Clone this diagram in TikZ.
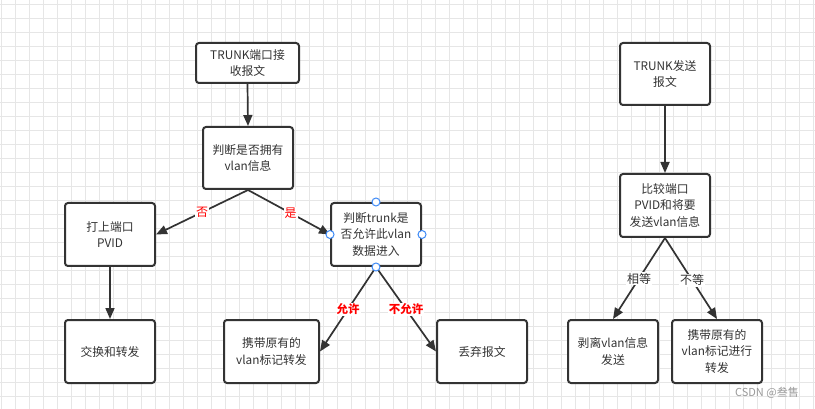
\documentclass[tikz,border=0pt]{standalone}
\usepackage{fontspec}
\setmainfont{Noto Sans CJK SC}
\usetikzlibrary{arrows.meta}
\definecolor{ink}{HTML}{333333}
\definecolor{gridc}{HTML}{E6E6E6}
\definecolor{handle}{HTML}{3D8AF7}
\tikzset{
  box/.style={draw=ink, line width=2pt, rounded corners=3pt, fill=white, text=ink,
    inner sep=0pt, minimum width=90pt, minimum height=63pt, align=center,
    font=\fontsize{11.8}{16.5}\selectfont},
  arr/.style={draw=ink, line width=1.7pt, -{Triangle[length=11pt,width=9pt]}},
  redlbl/.style={fill=white, text=red, inner sep=1pt, font=\fontsize{12}{13}\selectfont},
  redbold/.style={fill=white, text=red, inner sep=1pt, font=\fontsize{11.5}{13}\selectfont\bfseries},
  blklbl/.style={fill=white, text=ink, inner sep=1pt, font=\fontsize{12}{13}\selectfont},
  hdl/.style={circle, draw=handle, fill=white, line width=1pt, minimum size=8pt, inner sep=0pt}
}
\begin{document}
\begin{tikzpicture}[x=1pt,y=-1pt]
\useasboundingbox (0,0) rectangle (815,409);
\fill[white] (0,0) rectangle (815,409);
\foreach \gx in {1,15,...,815} \draw[gridc, line width=0.8pt] (\gx,0) -- (\gx,409);
\foreach \gy in {4,18,...,409} \draw[gridc, line width=0.8pt] (0,\gy) -- (815,\gy);

\node[box, minimum width=103pt, minimum height=40pt] (A) at (247.5,63) {TRUNK端口接\\收报文};
\node[box, minimum height=62pt] (B) at (248,158) {判断是否拥有\\vlan信息};
\node[box] (C) at (110,234.5) {打上端口\\PVID};
\node[box] (D) at (376,234.5) {判断trunk是\\否允许此vlan\\数据进入};
\node[box] (E) at (110,351.5) {交换和转发};
\node[box, minimum width=95pt] (F) at (271.5,351.5) {携带原有的\\vlan标记转发};
\node[box] (G) at (482,351.5) {丢弃报文};
\node[box, minimum height=62pt] (H) at (665,74) {TRUNK发送\\报文};
\node[box] (I) at (665,205.5) {比较端口\\PVID和将要\\发送vlan信息};
\node[box] (J) at (613,351.5) {剥离vlan信息\\发送};
\node[box] (K) at (717,351.5) {携带原有的\\vlan标记进行\\转发};

\draw[arr] (A.south) -- (B.north);
\draw[arr] (B.south) -- (C.east) node[redlbl, pos=0.5] (lno) {否};
\draw[arr] (B.south) -- (D.west) node[redlbl, pos=0.52] (lyes) {是};
\draw[arr] (C.south) -- (E.north);
\draw[arr] (D.south) -- (F.east) node[redbold, pos=0.5] (lallow) {允许};
\draw[arr] (D.south) -- (G.west) node[redbold, pos=0.5] (ldeny) {不允许};
\draw[arr] (H.south) -- (I.north);
\draw[arr] (I.south) -- (J.north) node[blklbl, pos=0.5] (leq) {相等};
\draw[arr] (I.south) -- (K.north) node[blklbl, pos=0.52] (lneq) {不等};

\node[hdl] (h1) at (D.north) {};
\node[hdl] (h2) at (D.west) {};
\node[hdl] (h3) at (D.east) {};
\node[hdl] (h4) at (D.south) {};

\node[anchor=east, text=black!40, inner sep=0pt, font=\fontsize{11}{12}\selectfont] (wm) at (799,393) {CSDN @叁售};
\end{tikzpicture}
\end{document}
